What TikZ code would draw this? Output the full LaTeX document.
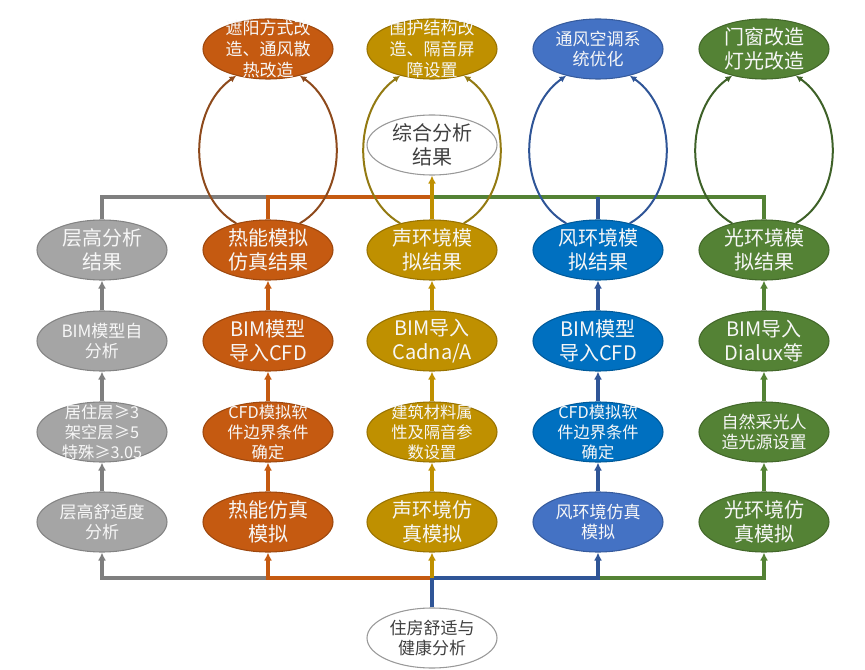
\documentclass[tikz,border=0pt]{standalone}
\usepackage{fontspec}
\setmainfont{Noto Sans CJK SC}
\usetikzlibrary{shapes.geometric,arrows.meta}
\definecolor{fgray}{HTML}{A5A5A5}
\definecolor{forange}{HTML}{C55A11}
\definecolor{fgold}{HTML}{BF9000}
\definecolor{fblue}{HTML}{0070C0}
\definecolor{fblueb}{HTML}{4472C4}
\definecolor{fgreen}{HTML}{548235}
\definecolor{lgray}{HTML}{7F7F7F}
\definecolor{lblue}{HTML}{2F5597}
\definecolor{corange}{HTML}{8E4A1C}
\definecolor{cgold}{HTML}{937A12}
\definecolor{cgreen}{HTML}{3E6128}
\definecolor{txtw}{HTML}{F7F7F7}
\definecolor{txtd}{HTML}{404040}
\newcommand{\fbig}{\fontsize{15}{17.5}\selectfont}
\newcommand{\fmid}{\fontsize{12.75}{15.5}\selectfont}
\newcommand{\fsml}{\fontsize{12.2}{15}\selectfont}

\begin{document}
\begin{tikzpicture}[x=0.75pt,y=0.75pt,>={Latex[length=6pt,width=6pt]},
  ell/.style={ellipse,minimum width=97.5pt,minimum height=45pt,inner xsep=0pt,
    inner ysep=-6pt,align=center,text=txtw,line width=0.8pt,font=\fbig},
  grayell/.style={ell,fill=fgray,draw=fgray!80!black},
  orangeell/.style={ell,fill=forange,draw=forange!80!black},
  goldell/.style={ell,fill=fgold,draw=fgold!80!black},
  blueell/.style={ell,fill=fblue,draw=fblue!80!black},
  bluebell/.style={ell,fill=fblueb,draw=fblueb!80!black},
  greenell/.style={ell,fill=fgreen,draw=fgreen!80!black},
  whiteell/.style={ell,fill=white,draw=black!40,text=txtd},
  ln/.style={line width=2.3pt},
  curve/.style={line width=1.5pt,>={Latex[length=5pt,width=5pt]}}]
\useasboundingbox (0,0) rectangle (865,669);

% root and summary
\node[whiteell,font=\fmid] (root) at (432,31) {住房舒适与\\健康分析};
\node[whiteell] (sum) at (432,524) {综合分析\\结果};
\coordinate (busb) at (432,91);
\coordinate (bust) at (432,472);

% gray column
\node[grayell,font=\fmid] (g1) at (102,147) {层高舒适度\\分析};
\node[grayell,font=\fsml] (g2) at (102,237) {居住层≥3\\架空层≥5\\特殊≥3.05};
\node[grayell,font=\fmid] (g3) at (102,328) {BIM模型自\\分析};
\node[grayell] (g4) at (102,419) {层高分析\\结果};

% heat column
\node[orangeell] (h1) at (268,147) {热能仿真\\模拟};
\node[orangeell,font=\fsml] (h2) at (268,237) {CFD模拟软\\件边界条件\\确定};
\node[orangeell] (h3) at (268,328) {BIM模型\\导入CFD};
\node[orangeell] (h4) at (268,419) {热能模拟\\仿真结果};
\node[orangeell,font=\fmid] (h5) at (268,620) {遮阳方式改\\造、通风散\\热改造};

% sound column
\node[goldell] (s1) at (432,147) {声环境仿\\真模拟};
\node[goldell,font=\fsml] (s2) at (432,237) {建筑材料属\\性及隔音参\\数设置};
\node[goldell] (s3) at (432,328) {BIM导入\\Cadna/A};
\node[goldell] (s4) at (432,419) {声环境模\\拟结果};
\node[goldell,font=\fmid] (s5) at (432,620) {围护结构改\\造、隔音屏\\障设置};

% wind column
\node[bluebell,font=\fmid] (w1) at (598,147) {风环境仿真\\模拟};
\node[blueell,font=\fsml] (w2) at (598,237) {CFD模拟软\\件边界条件\\确定};
\node[blueell] (w3) at (598,328) {BIM模型\\导入CFD};
\node[blueell] (w4) at (598,419) {风环境模\\拟结果};
\node[bluebell,font=\fmid] (w5) at (598,620) {通风空调系\\统优化};

% light column
\node[greenell] (l1) at (764,147) {光环境仿\\真模拟};
\node[greenell,font=\fmid] (l2) at (764,237) {自然采光人\\造光源设置};
\node[greenell] (l3) at (764,328) {BIM导入\\Dialux等};
\node[greenell] (l4) at (764,419) {光环境模\\拟结果};
\node[greenell] (l5) at (764,620) {门窗改造\\灯光改造};

% lower bus
\draw[ln,lgray,->] (busb) -| (g1.south);
\draw[ln,forange,->] (busb) -| (h1.south);
\draw[ln,fgreen,->] (busb) -| (l1.south);
\draw[ln,lblue,->] (busb) -| (w1.south);
\draw[ln,fgold,->] (busb) -- (s1.south);
\draw[ln,lblue] (root.north) -- (busb);

% columns
\draw[ln,lgray,->] (g1) -- (g2);
\draw[ln,lgray,->] (g2) -- (g3);
\draw[ln,lgray,->] (g3) -- (g4);
\draw[ln,forange,->] (h1) -- (h2);
\draw[ln,forange,->] (h2) -- (h3);
\draw[ln,forange,->] (h3) -- (h4);
\draw[ln,fgold,->] (s1) -- (s2);
\draw[ln,fgold,->] (s2) -- (s3);
\draw[ln,fgold,->] (s3) -- (s4);
\draw[ln,lblue,->] (w1) -- (w2);
\draw[ln,lblue,->] (w2) -- (w3);
\draw[ln,lblue,->] (w3) -- (w4);
\draw[ln,fgreen,->] (l1) -- (l2);
\draw[ln,fgreen,->] (l2) -- (l3);
\draw[ln,fgreen,->] (l3) -- (l4);

% upper bus
\draw[ln,lgray] (g4.north) |- (bust);
\draw[ln,forange] (h4.north) |- (bust);
\draw[ln,fgreen] (l4.north) |- (bust);
\draw[ln,lblue] (w4.north) -- (w4.north |- bust);
\draw[ln,fgold,->] (s4.north) -- (sum.south);

% feedback arcs
\draw[curve,corange,->] (h4.140) to[out=150,in=215] (h5.220);
\draw[curve,corange,->] (h4.40) to[out=30,in=325] (h5.320);
\draw[curve,cgold,->] (s4.140) to[out=150,in=215] (s5.220);
\draw[curve,cgold,->] (s4.40) to[out=30,in=325] (s5.320);
\draw[curve,lblue,->] (w4.140) to[out=150,in=215] (w5.220);
\draw[curve,lblue,->] (w4.40) to[out=30,in=325] (w5.320);
\draw[curve,cgreen,->] (l4.140) to[out=150,in=215] (l5.220);
\draw[curve,cgreen,->] (l4.40) to[out=30,in=325] (l5.320);
\end{tikzpicture}
\end{document}
